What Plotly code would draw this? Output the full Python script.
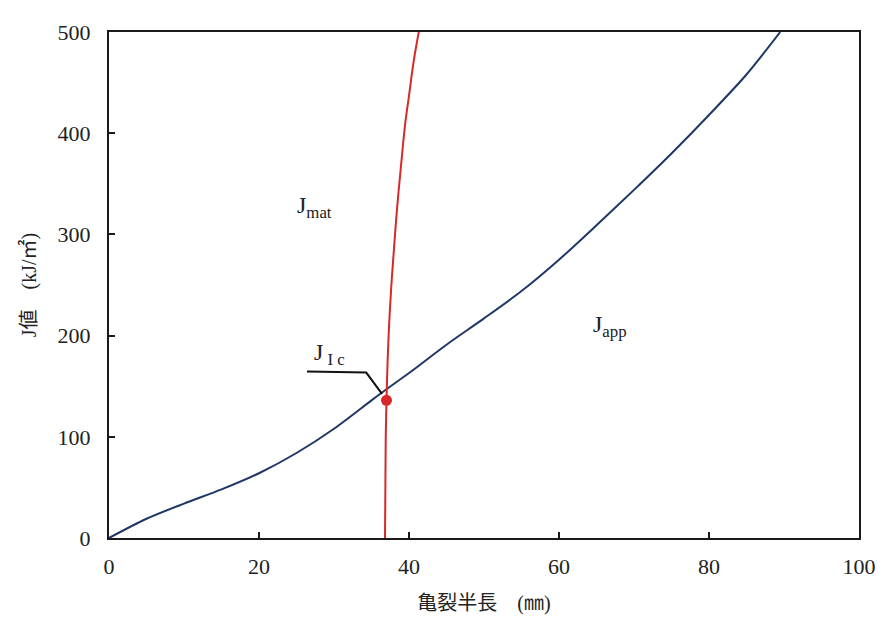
import plotly.graph_objects as go

# J_app curve (applied J vs half crack length)
app_crack_mm = [0, 5, 10, 15, 20, 25, 30, 35, 37, 40, 45, 50, 55, 60, 65, 70, 75, 80, 85, 89.5]
app_J = [0, 19, 34, 48, 64, 84, 108, 136, 147, 163, 191, 217, 244, 275, 309, 344, 380, 418, 458, 500]

# J_mat curve (material resistance)
mat_J = [0, 50, 100, 136, 175, 211, 250, 276, 325, 373, 410, 437, 470, 500]
mat_crack_mm = [36.8, 36.85, 36.9, 37.0, 37.15, 37.35, 37.65, 37.9, 38.4, 39.0, 39.5, 40.0, 40.6, 41.3]

# J_Ic point
jic_crack = [37.0]
jic_J = [136]

x_ticks = [0, 20, 40, 60, 80, 100]
y_ticks = [0, 100, 200, 300, 400, 500]

serif = "Liberation Serif, Noto Sans CJK JP, serif"

fig = go.Figure()
fig.add_trace(go.Scatter(x=app_crack_mm, y=app_J, mode="lines",
                         line=dict(color="#1f3766", width=2, shape="spline", smoothing=0.8),
                         showlegend=False, hoverinfo="skip"))
fig.add_trace(go.Scatter(x=mat_crack_mm, y=mat_J, mode="lines",
                         line=dict(color="#d8282a", width=2, shape="spline", smoothing=1.0),
                         showlegend=False, hoverinfo="skip"))
fig.add_trace(go.Scatter(x=jic_crack, y=jic_J, mode="markers",
                         marker=dict(color="#d8282a", size=11),
                         showlegend=False, hoverinfo="skip"))

# leader line for J_Ic
fig.add_trace(go.Scatter(x=[26.4, 34.3, 36.4], y=[164.5, 163.5, 142.5], mode="lines",
                         line=dict(color="#111111", width=2),
                         showlegend=False, hoverinfo="skip"))

fig.add_annotation(x=27.0, y=165, xanchor="left", yanchor="bottom", showarrow=False,
                   text="J<sub> I c</sub>", font=dict(family=serif, size=24, color="#222"))
fig.add_annotation(x=24.8, y=327, xanchor="left", yanchor="middle", showarrow=False,
                   text="J<sub>mat</sub>", font=dict(family=serif, size=24, color="#222"))
fig.add_annotation(x=64.3, y=209, xanchor="left", yanchor="middle", showarrow=False,
                   text="J<sub>app</sub>", font=dict(family=serif, size=24, color="#222"))

axis_common = dict(showline=True, linecolor="#1a1a1a", linewidth=2, mirror=True,
                   ticks="inside", ticklen=6, tickwidth=1.5, tickcolor="#1a1a1a",
                   showgrid=False, zeroline=False,
                   tickfont=dict(family=serif, size=22, color="#222"))

fig.update_xaxes(range=[0, 100], tickvals=x_ticks, ticktext=[str(v) for v in x_ticks],
                 ticklabelstandoff=8,
                 title=dict(text="亀裂半長　(㎜)", font=dict(family=serif, size=20, color="#222"),
                            standoff=18),
                 **axis_common)
fig.update_yaxes(range=[0, 500], tickvals=y_ticks, ticktext=[str(v) for v in y_ticks],
                 ticklabelstandoff=12,
                 title=dict(text="J値　(kJ/㎡)", font=dict(family=serif, size=20, color="#222"),
                            standoff=16),
                 **axis_common)

fig.update_layout(width=883, height=624, plot_bgcolor="white", paper_bgcolor="white",
                  margin=dict(l=101, r=32, t=14, b=94))

fig.write_html("out.html")
